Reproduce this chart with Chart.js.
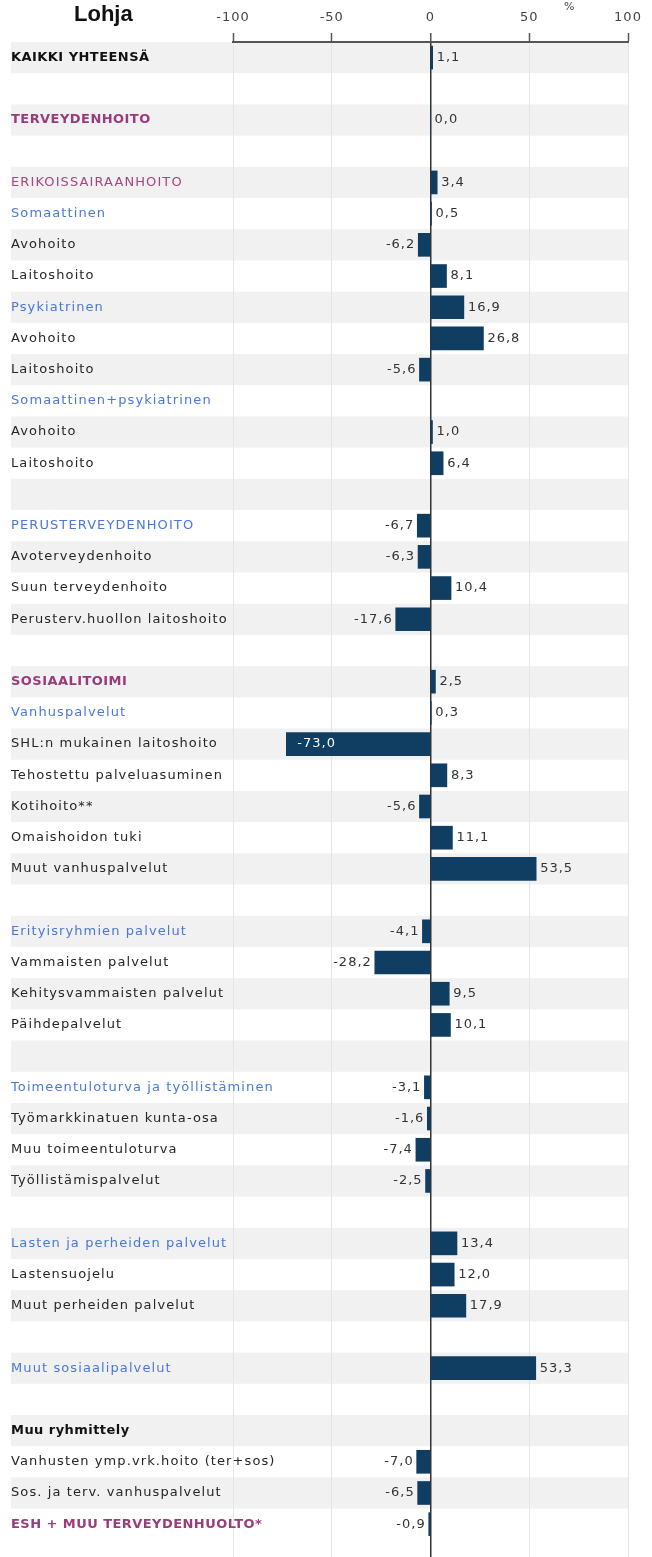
<!DOCTYPE html>
<html><head><meta charset="utf-8">
<script src="https://cdn.jsdelivr.net/npm/chart.js@4"></script>
<style>
html,body{margin:0;padding:0;background:#fff;overflow:hidden}
#wrap{position:relative;width:652px;height:1557px;overflow:hidden}
#title{position:absolute;left:74px;top:2px;font:bold 22px "Liberation Sans",Arial,sans-serif;color:#111;line-height:24px}
#unit{position:absolute;left:564px;top:0px;font:11px "DejaVu Sans",sans-serif;color:#444;line-height:14px}
canvas{display:block}
</style>
</head><body>
<div id="wrap">
<canvas id="c" width="652" height="1571"></canvas>
<div id="title">Lohja</div>
<div id="unit">%</div>
</div>
<script>
const categories = [
 'KAIKKI YHTEENSÄ','',
 'TERVEYDENHOITO','',
 'ERIKOISSAIRAANHOITO','Somaattinen','Avohoito','Laitoshoito','Psykiatrinen','Avohoito','Laitoshoito','Somaattinen+psykiatrinen','Avohoito','Laitoshoito','',
 'PERUSTERVEYDENHOITO','Avoterveydenhoito','Suun terveydenhoito','Perusterv.huollon laitoshoito','',
 'SOSIAALITOIMI','Vanhuspalvelut','SHL:n mukainen laitoshoito','Tehostettu palveluasuminen','Kotihoito**','Omaishoidon tuki','Muut vanhuspalvelut','',
 'Erityisryhmien palvelut','Vammaisten palvelut','Kehitysvammaisten palvelut','Päihdepalvelut','',
 'Toimeentuloturva ja työllistäminen','Työmarkkinatuen kunta-osa','Muu toimeentuloturva','Työllistämispalvelut','',
 'Lasten ja perheiden palvelut','Lastensuojelu','Muut perheiden palvelut','',
 'Muut sosiaalipalvelut','',
 'Muu ryhmittely','Vanhusten ymp.vrk.hoito (ter+sos)','Sos. ja terv. vanhuspalvelut','ESH + MUU TERVEYDENHUOLTO*',
 ''
];
const values = [
 1.1,null,
 0.0,null,
 3.4,0.5,-6.2,8.1,16.9,26.8,-5.6,null,1.0,6.4,null,
 -6.7,-6.3,10.4,-17.6,null,
 2.5,0.3,-73.0,8.3,-5.6,11.1,53.5,null,
 -4.1,-28.2,9.5,10.1,null,
 -3.1,-1.6,-7.4,-2.5,null,
 13.4,12.0,17.9,null,
 53.3,null,
 null,-7.0,-6.5,-0.9,
 null
];
// k = bold black, p = bold purple, q = purple, b = blue, n = normal
const labelStyles = [
 'k','n',
 'p','n',
 'q','b','n','n','b','n','n','b','n','n','n',
 'b','n','n','n','n',
 'p','b','n','n','n','n','n','n',
 'b','n','n','n','n',
 'b','n','n','n','n',
 'b','n','n','n',
 'b','n',
 'k','n','n','p',
 'n'
];
const xTicks = [-100,-50,0,50,100];
const stripedRows = 48;

const styleColor = {k:'#111111', p:'#9a3b7c', q:'#a5477f', b:'#4a78d8', n:'#262626'};
const FONT = '"DejaVu Sans", sans-serif';

const stripes = {
  id:'stripes',
  beforeDraw(chart){
    const {ctx, chartArea, scales:{y}} = chart;
    ctx.letterSpacing = '1px';
    const h = Math.abs(y.getPixelForValue(1) - y.getPixelForValue(0));
    ctx.save();
    ctx.fillStyle = '#f1f1f1';
    for(let i=0;i<stripedRows;i++){
      if(i%2===0){
        const c = y.getPixelForValue(i);
        ctx.fillRect(11, c - h/2, chartArea.right - 11, h);
      }
    }
    ctx.restore();
  }
};

const rowLabels = {
  id:'rowLabels',
  afterDraw(chart){
    const {ctx, scales:{y}} = chart;
    ctx.save();
    ctx.textAlign = 'left';
    ctx.textBaseline = 'middle';
    categories.forEach((t, i) => {
      if(!t) return;
      const s = labelStyles[i];
      const bold = (s === 'k' || s === 'p');
      ctx.font = (bold ? 'bold ' : '') + '13px ' + FONT;
      ctx.letterSpacing = bold ? '0.45px' : '1.1px';
      ctx.fillStyle = styleColor[s];
      ctx.fillText(t, 11, y.getPixelForValue(i));
    });
    ctx.restore();
  }
};

const valueLabels = {
  id:'valueLabels',
  afterDatasetsDraw(chart){
    const {ctx} = chart;
    const meta = chart.getDatasetMeta(0);
    ctx.save();
    ctx.font = '13px ' + FONT;
    ctx.letterSpacing = '1px';
    ctx.textBaseline = 'middle';
    meta.data.forEach((bar, i) => {
      const v = values[i];
      if(v === null || v === undefined) return;
      const txt = v.toFixed(1).replace('.', ',');
      if(v < -50){
        ctx.fillStyle = '#ffffff';
        ctx.textAlign = 'left';
        ctx.fillText(txt, bar.x + 11, bar.y);
      } else if(v < 0){
        ctx.fillStyle = '#333333';
        ctx.textAlign = 'right';
        ctx.fillText(txt, bar.x - 3, bar.y);
      } else {
        ctx.fillStyle = '#333333';
        ctx.textAlign = 'left';
        ctx.fillText(txt, Math.max(bar.x, bar.base) + 4, bar.y);
      }
    });
    ctx.restore();
  }
};

new Chart(document.getElementById('c'), {
  type:'bar',
  data:{
    labels: categories,
    datasets:[{
      data: values,
      backgroundColor:'#0f3e62',
      borderWidth:0,
      barThickness:23
    }]
  },
  options:{
    indexAxis:'y',
    responsive:false,
    animation:false,
    layout:{padding:{left:11, right:24, top:0, bottom:0}},
    plugins:{legend:{display:false}, tooltip:{enabled:false}},
    scales:{
      x:{
        type:'linear',
        position:'top',
        min:-100, max:100,
        afterBuildTicks(scale){ scale.ticks = xTicks.map(v => ({value:v})); },
        afterFit(scale){ scale.height = 42; },
        ticks:{
          font:{family:FONT, size:13},
          color:'#444',
          padding:8,
          callback:(v) => String(v)
        },
        grid:{
          color:(ctx) => (ctx.tick && ctx.tick.value === 0) ? '#333333' : '#e4e4e4',
          lineWidth:(ctx) => (ctx.tick && ctx.tick.value === 0) ? 1.5 : 1,
          tickColor:'#555',
          tickLength:9,
          tickWidth:1.5,
          drawTicks:true
        },
        border:{display:true, color:'#555', width:2}
      },
      y:{
        type:'category',
        afterFit(scale){ scale.width = 222; },
        grid:{display:false, drawTicks:false},
        border:{display:false},
        ticks:{display:false, autoSkip:false}
      }
    }
  },
  plugins:[stripes, valueLabels, rowLabels]
});
</script>
</body></html>
